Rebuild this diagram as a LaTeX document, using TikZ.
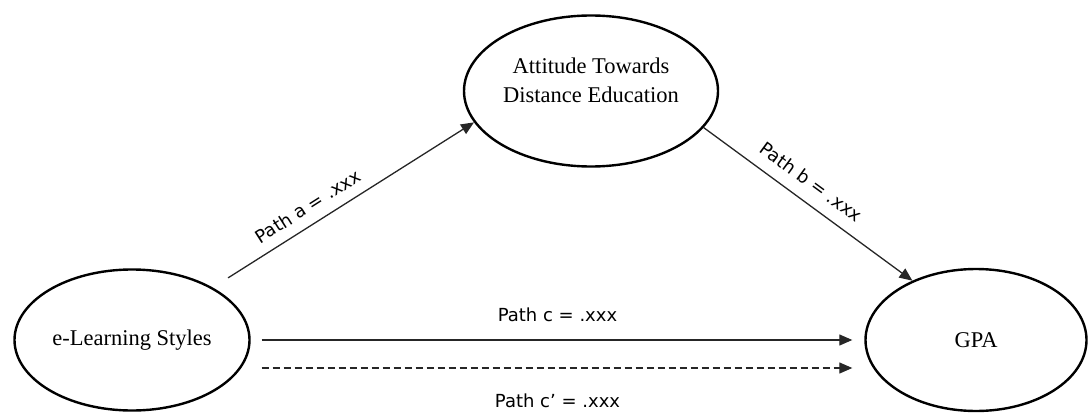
\documentclass[tikz,border=0pt]{standalone}
\usepackage{fontspec}
\setmainfont{Liberation Serif}
\newfontfamily\coeffont{DejaVu Sans}
\usetikzlibrary{shapes.geometric,arrows.meta}
\tikzstyle{construct}=[ellipse,draw,line width=2.4pt,inner sep=0pt,align=center,font=\fontsize{22.5}{29}\selectfont]
\tikzstyle{effect}=[draw,line width=1.3pt,black!85,-{Triangle[length=13pt,width=11pt]}]
\tikzstyle{coef}=[black,font=\coeffont\fontsize{18}{21}\selectfont]

\begin{document}
\begin{tikzpicture}[x=1pt,y=-1pt]
    \useasboundingbox (0,0) rectangle (1091,417);
    % variables
    \node[construct,minimum width=254pt,minimum height=151pt,
          label={[align=center,font=\fontsize{22.5}{29}\selectfont,yshift=11pt]center:Attitude Towards\\Distance Education}] (att) at (591,91) {};
    \node[construct,minimum width=235pt,minimum height=141pt] (els) at (132,340) {e-Learning Styles};
    \node[construct,minimum width=221pt,minimum height=142pt] (gpa) at (976,340) {GPA};
    % chemins
    \draw[effect,shorten <=18pt] (els.33) -- node[coef,sloped,pos=.4,above=7pt] {Path a = .xxx} (att.195);
    \draw[effect] (att.-18) -- node[coef,sloped,pos=.46,above=9pt] {Path b = .xxx} (gpa.137);
    \draw[effect,shorten <=11pt,shorten >=12pt] (els.east) -- node[coef,above=14pt] {Path c = .xxx} (gpa.west);
    \draw[effect,dash pattern=on 7pt off 4pt,shorten <=11pt,shorten >=12pt] ([yshift=-28pt]els.east) -- node[coef,below=22pt] {Path c’ = .xxx} ([yshift=-28pt]gpa.west);
\end{tikzpicture}
\end{document}
